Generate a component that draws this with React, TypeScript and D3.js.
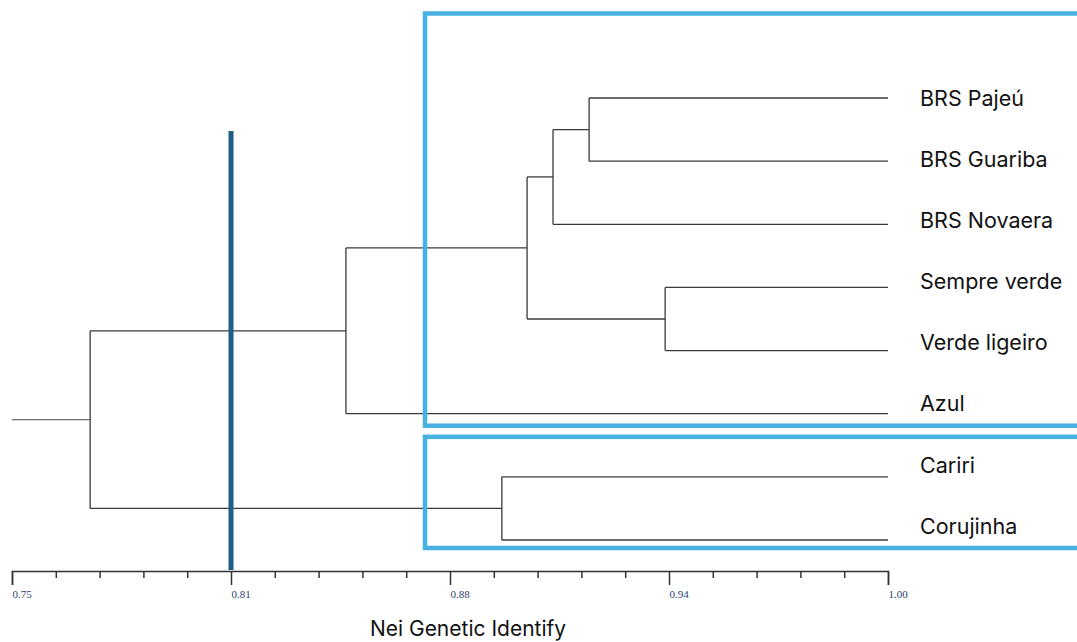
import React, { useEffect, useRef } from "react";
import * as d3 from "d3";

// leaf order, top to bottom
const leaves = [
  "BRS Pajeú",
  "BRS Guariba",
  "BRS Novaera",
  "Sempre verde",
  "Verde ligeiro",
  "Azul",
  "Cariri",
  "Corujinha",
];

// merges (UPGMA style): cluster name, two children, Nei identity at the join
const mergeNames = ["n1", "n2", "n3", "n4", "n5", "n6", "n7"];
const mergeLeft = ["BRS Pajeú", "n1", "Sempre verde", "n2", "n4", "Cariri", "n5"];
const mergeRight = ["BRS Guariba", "BRS Novaera", "Verde ligeiro", "n3", "Azul", "Corujinha", "n6"];
const mergeIdentity = [0.9147, 0.9044, 0.9364, 0.897, 0.8453, 0.8898, 0.7723];

// groups framed by boxes
const groupFirst = ["BRS Pajeú", "Cariri"];
const groupLast = ["Azul", "Corujinha"];

const cutOff = 0.8125;
const axisMin = 0.75;
const axisMax = 1.0;
const tickStep = 0.0125;

type Node = { name: string; identity: number; children?: Node[] };

const buildTree = (): Node => {
  const nodes: Record<string, Node> = {};
  leaves.forEach((l) => (nodes[l] = { name: l, identity: axisMax }));
  mergeNames.forEach((n, i) => {
    nodes[n] = {
      name: n,
      identity: mergeIdentity[i],
      children: [nodes[mergeLeft[i]], nodes[mergeRight[i]]],
    };
  });
  return nodes[mergeNames[mergeNames.length - 1]];
};

const App = () => {
  const ref = useRef<SVGSVGElement>(null);

  useEffect(() => {
    if (!ref.current) return;
    const svg = d3.select(ref.current);
    svg.selectAll("*").remove();

    const x = d3.scaleLinear().domain([axisMin, axisMax]).range([12, 888]);
    const y = d3.scalePoint<string>().domain(leaves).range([98, 540]);
    // labels sit on their own, slightly tighter, spacing
    const yLabel = d3.scalePoint<string>().domain(leaves).range([98, 526]);

    const root = d3.hierarchy(buildTree());
    // y positions: leaves from scale, internal nodes at midpoint of children
    root.eachAfter((d: any) => {
      d.py = d.children
        ? (d.children[0].py + d.children[d.children.length - 1].py) / 2
        : y(d.data.name);
      d.px = x(d.data.identity);
    });

    const tree = svg.append("g").attr("fill", "none").attr("stroke", "#3a3a3a").attr("stroke-width", 1.3);

    // root stub
    const r: any = root;
    tree.append("line")
      .attr("x1", x(axisMin)).attr("x2", r.px)
      .attr("y1", r.py).attr("y2", r.py)
      .attr("stroke", "#6e6e6e");

    root.descendants().forEach((d: any) => {
      if (!d.children) return;
      const ys = d.children.map((c: any) => c.py);
      tree.append("line")
        .attr("x1", d.px).attr("x2", d.px)
        .attr("y1", d3.min(ys)).attr("y2", d3.max(ys));
      d.children.forEach((c: any) => {
        tree.append("line")
          .attr("x1", d.px).attr("x2", c.px)
          .attr("y1", c.py).attr("y2", c.py);
      });
    });

    // leaf labels
    svg.append("g")
      .selectAll("text")
      .data(leaves)
      .enter()
      .append("text")
      .attr("x", 920)
      .attr("y", (d) => yLabel(d) as number)
      .attr("dy", "0.36em")
      .attr("font-family", "Inter, 'Liberation Sans', sans-serif")
      .attr("font-size", 21.5)
      .attr("fill", "#111")
      .text((d) => d);

    // axis
    const ticks = d3.range(0, Math.round((axisMax - axisMin) / tickStep) + 1).map((i) => axisMin + i * tickStep);
    const axis = svg.append("g")
      .attr("transform", "translate(0,571)")
      .call(
        d3.axisBottom(x)
          .tickValues(ticks)
          .tickSizeOuter(0)
          .tickSize(14)
          .tickFormat((d, i) => (i % 5 === 0 ? d3.format(".2f")(d as number) : ""))
      );
    axis.select(".domain").attr("stroke", "#333").attr("stroke-width", 1.5);
    axis.selectAll(".tick line")
      .attr("stroke", "#333")
      .attr("stroke-width", 1.5)
      .attr("y2", (_d, i) => (i % 5 === 0 ? 14 : 7));
    axis.selectAll(".tick text")
      .attr("y", 19)
      .attr("dy", "0.71em")
      .attr("text-anchor", "start")
      .attr("font-family", "'Liberation Serif', 'DejaVu Serif', serif")
      .attr("font-size", 11)
      .attr("fill", "#2b4470");

    svg.append("text")
      .attr("x", 468)
      .attr("y", 636)
      .attr("text-anchor", "middle")
      .attr("font-family", "Inter, 'Liberation Sans', sans-serif")
      .attr("font-size", 21)
      .attr("fill", "#111")
      .text("Nei Genetic Identify");

    // cut-off line
    svg.append("line")
      .attr("x1", x(cutOff)).attr("x2", x(cutOff))
      .attr("y1", 131).attr("y2", 570)
      .attr("stroke", "#1c5f86")
      .attr("stroke-width", 5);

    // group boxes
    const boxes = svg.append("g").attr("fill", "none").attr("stroke", "#47b1e2").attr("stroke-width", 4.5);
    groupFirst.forEach((f, i) => {
      const top = i === 0 ? 13.5 : (y(groupFirst[i]) as number) - 40;
      const bottom = (y(groupLast[i]) as number) + (i === 0 ? 12 : 8);
      boxes.append("rect")
        .attr("x", 425)
        .attr("y", top)
        .attr("width", 700)
        .attr("height", bottom - top);
    });
  }, []);

  return (
    <svg
      ref={ref}
      width={1077}
      height={642}
      style={{ position: "absolute", left: 0, top: 0, background: "#fff" }}
    ></svg>
  );
};

export default App;
